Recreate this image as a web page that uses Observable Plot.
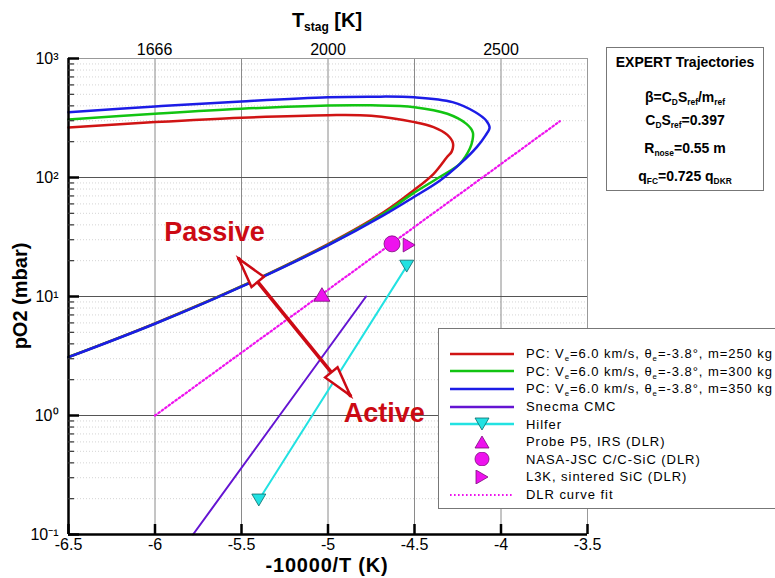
<!DOCTYPE html>
<html><head><meta charset="utf-8">
<script src="https://cdn.jsdelivr.net/npm/d3@7"></script>
<script src="https://cdn.jsdelivr.net/npm/@observablehq/plot@0.6"></script>
<style>
body{margin:0;background:#fff;font-family:"Liberation Sans",Arial,Helvetica,sans-serif;}
#wrap{position:relative;width:775px;height:578px;overflow:hidden;background:#fff;}
#wrap svg.plot{position:absolute;left:0;top:0;}
.ab{position:absolute;white-space:nowrap;color:#000;}
.c{transform:translate(-50%,-50%);}
sub{font-size:0.6em;vertical-align:-0.35em;line-height:0;}
.title{font-weight:bold;}
#info{position:absolute;left:606px;top:47px;width:156px;height:142px;border:1px solid #777;background:#fff;}
#info div{position:absolute;left:0;width:156px;text-align:center;font-weight:bold;font-size:14px;line-height:16px;transform:translateY(-50%);}
#legend{position:absolute;left:438px;top:328px;width:345px;height:181px;border:1px solid #777;background:#fff;box-sizing:border-box;padding:16px 0 0 11px;}
.row{display:flex;align-items:center;height:17.6px;}
.row svg{flex:none;}
.row span{margin-left:12px;font-size:13px;letter-spacing:0.95px;white-space:nowrap;}
</style></head><body><div id="wrap"></div><script>
// ---------- data ----------
const xTicks = [-6.5, -6, -5.5, -5, -4.5, -4, -3.5];
const yTicks = [0.1, 1, 10, 100, 1000];
const yTickLabels = ["10\u207B\u00B9", "10\u2070", "10\u00B9", "10\u00B2", "10\u00B3"];
const tStagTicks = [1666, 2000, 2500];

// PC trajectories, m = 250 / 300 / 350 kg   (x = -10000/T, p = pO2 in mbar)
const pc250X = [-6.5, -6.0, -5.5, -5.0, -4.75, -4.5, -4.39, -4.31, -4.278, -4.285, -4.313, -4.391, -4.506, -4.679, -5.0, -5.5, -6.0, -6.5];
const pc250P = [263, 292, 318, 334, 330, 292, 265, 228, 195, 165, 148, 107, 77.8, 51, 27.6, 12.2, 5.95, 3.1];
const pc300X = [-6.5, -6.0, -5.5, -5.0, -4.75, -4.5, -4.31, -4.2, -4.163, -4.165, -4.18, -4.237, -4.354, -4.508, -4.68, -5.0, -5.5, -6.0, -6.5];
const pc300P = [307, 343, 378, 403, 404, 390, 343, 282, 240, 205, 175, 131, 101, 73.5, 49.5, 27.2, 12.15, 5.92, 3.1];
const pc350X = [-6.5, -6.0, -5.5, -5.0, -4.75, -4.5, -4.28, -4.15, -4.085, -4.066, -4.09, -4.14, -4.237, -4.352, -4.506, -4.68, -5.0, -5.5, -6.0, -6.5];
const pc350P = [354, 395, 436, 473, 478, 472, 430, 355, 300, 262, 225, 180, 130, 94.4, 68.2, 48, 26.9, 12.1, 5.9, 3.09];

// Snecma CMC
const snecmaX = [-5.78, -4.78];
const snecmaP = [0.1, 10];
// Hilfer
const hilferX = [-5.40, -4.545];
const hilferP = [0.195, 18];
// DLR points
const probeX = [-5.035], probeP = [10.4];
const nasaX = [-4.63], nasaP = [27.7];
const l3kX = [-4.531], l3kP = [27.1];
// DLR curve fit
const fitX = [-6.0, -3.66];
const fitP = [1.0, 297];
// Passive / Active arrow and labels
const arrowX = [-5.516, -4.871];
const arrowP = [20.8, 1.47];
const regionLabels = ["Passive", "Active"];
const regionX = [-5.656, -4.675];
const regionP = [34.5, 1.04];

const legendLabels = [
  "PC: V<sub>e</sub>=6.0 km/s, \u03B8<sub>e</sub>=-3.8\u00B0, m=250 kg",
  "PC: V<sub>e</sub>=6.0 km/s, \u03B8<sub>e</sub>=-3.8\u00B0, m=300 kg",
  "PC: V<sub>e</sub>=6.0 km/s, \u03B8<sub>e</sub>=-3.8\u00B0, m=350 kg",
  "Snecma CMC",
  "Hilfer",
  "Probe P5, IRS (DLR)",
  "NASA-JSC C/C-SiC (DLR)",
  "L3K, sintered SiC (DLR)",
  "DLR curve fit"
];

// ---------- styles ----------
const C = {red:"#d01414", green:"#12c412", blue:"#1c1ce6", purple:"#6414d2", cyan:"#22e2e2", magenta:"#ee12ee", arrow:"#cc0a14"};

const pts = (xs, ps) => xs.map((x, i) => ({x, p: ps[i]}));

function tri(dir){ // custom triangle symbols: "down" | "up" | "right"
  return {draw(ctx, size){
    const r = Math.sqrt(size / Math.PI);
    const h = r * 0.85, w = r;
    if (dir === "down"){ ctx.moveTo(-w,-h); ctx.lineTo(w,-h); ctx.lineTo(0,h); }
    else if (dir === "up"){ ctx.moveTo(-w,h); ctx.lineTo(w,h); ctx.lineTo(0,-h); }
    else { ctx.moveTo(-h,-w); ctx.lineTo(-h,w); ctx.lineTo(h,0); }
    ctx.closePath();
  }};
}
function head(deg){
  const a = deg*Math.PI/180, c = Math.cos(a), s = Math.sin(a);
  const q = [[0,0],[-8,30],[8,30]].map(([x,y]) => [x*c - y*s, x*s + y*c]);
  return {draw(ctx){ ctx.moveTo(q[0][0],q[0][1]); ctx.lineTo(q[1][0],q[1][1]); ctx.lineTo(q[2][0],q[2][1]); ctx.closePath(); }};
}

const minorY = [];
for (const k of [-1, 0, 1, 2]) for (let m = 2; m <= 9; m++) minorY.push(m * 10 ** k);
const topPos = tStagTicks.map(t => -10000 / t);

const W = 775, H = 578, ML = 68, MR = 188, MT = 58, MB = 44;
const PW = W - ML - MR, PH = H - MT - MB;

const plot = Plot.plot({
  width: W, height: H,
  marginLeft: ML, marginRight: MR, marginTop: MT, marginBottom: MB,
  style: {fontFamily: "'Liberation Sans', Arial, sans-serif", fontSize: "16px", color: "#000", background: "transparent"},
  x: {domain: [-6.5, -3.5]},
  y: {type: "log", domain: [0.1, 1000]},
  marks: [
    Plot.ruleY(minorY, {stroke: "#d4d4d4", strokeDasharray: "1,2"}),
    Plot.ruleX(xTicks.slice(1, -1), {stroke: "#8a8a8a"}),
    Plot.ruleY(yTicks.slice(1, -1), {stroke: "#555"}),
    Plot.ruleY([1000], {stroke: "#999"}),
    Plot.ruleX([-3.5], {stroke: "#999"}),
    Plot.line(pts(fitX, fitP), {x: "x", y: "p", stroke: C.magenta, strokeWidth: 2.2, strokeDasharray: "1.6,2.6"}),
    Plot.line(pts(snecmaX, snecmaP), {x: "x", y: "p", stroke: C.purple, strokeWidth: 2}),
    Plot.line(pts(hilferX, hilferP), {x: "x", y: "p", stroke: C.cyan, strokeWidth: 2}),
    Plot.line(pts(pc250X, pc250P), {x: "x", y: "p", stroke: C.red, strokeWidth: 2.5, curve: "catmull-rom"}),
    Plot.line(pts(pc300X, pc300P), {x: "x", y: "p", stroke: C.green, strokeWidth: 2.5, curve: "catmull-rom"}),
    Plot.line(pts(pc350X, pc350P), {x: "x", y: "p", stroke: C.blue, strokeWidth: 2.5, curve: "catmull-rom"}),
    Plot.dot(pts(hilferX, hilferP), {x: "x", y: "p", r: 7, symbol: tri("down"), fill: C.cyan, stroke: "#0a6a6a", strokeWidth: 0.8}),
    Plot.dot(pts(probeX, probeP), {x: "x", y: "p", r: 8, symbol: tri("up"), fill: C.magenta, stroke: "#7a0a7a", strokeWidth: 0.8}),
    Plot.dot(pts(nasaX, nasaP), {x: "x", y: "p", r: 8, fill: C.magenta, stroke: "#7a0a7a", strokeWidth: 0.8}),
    Plot.dot(pts(l3kX, l3kP), {x: "x", y: "p", r: 7, symbol: tri("right"), fill: C.magenta, stroke: "#7a0a7a", strokeWidth: 0.8}),
    // passive/active arrow
    Plot.line(pts(arrowX, arrowP), {x: "x", y: "p", stroke: C.arrow, strokeWidth: 3.5}),
    Plot.dot(pts(arrowX.slice(0,1), arrowP.slice(0,1)), {x: "x", y: "p", r: 8, symbol: head(-39.2), fill: "#fff", stroke: C.arrow, strokeWidth: 2.5}),
    Plot.dot(pts(arrowX.slice(1), arrowP.slice(1)), {x: "x", y: "p", r: 8, symbol: head(140.8), fill: "#fff", stroke: C.arrow, strokeWidth: 2.5}),
    Plot.text(regionLabels.map((t, i) => ({t, x: regionX[i], p: regionP[i]})), {x: "x", y: "p", text: "t", fill: C.arrow, fontSize: 27, fontWeight: "bold"}),
    // axes frame
    Plot.ruleX([-6.5], {stroke: "#000", strokeWidth: 2.5}),
    Plot.ruleY([0.1], {stroke: "#000", strokeWidth: 2.5}),
    Plot.tickX(xTicks, {x: d => d, stroke: "#000", strokeWidth: 2.5, insetTop: PH - 10}),
    Plot.tickY(yTicks, {y: d => d, stroke: "#000", strokeWidth: 2.5, insetRight: PW - 11}),
    Plot.tickY(minorY, {y: d => d, stroke: "#333", strokeWidth: 1.2, insetRight: PW - 6}),
    Plot.axisX({anchor: "bottom", ticks: xTicks, tickFormat: d => String(d), tickSize: 0, tickPadding: 4, label: null}),
    Plot.axisX({anchor: "top", ticks: topPos, tickFormat: d => String(tStagTicks[topPos.indexOf(d)]), tickSize: 0, tickPadding: 4, label: null}),
    Plot.axisY({ticks: yTicks, tickFormat: d => yTickLabels[yTicks.indexOf(d)], tickSize: 0, tickPadding: 10, label: null})
  ]
});
plot.classList.add("plot");
const wrap = document.getElementById("wrap");
wrap.appendChild(plot);

function addDiv(html, cls, css){
  const d = document.createElement("div");
  d.className = cls; d.innerHTML = html; Object.assign(d.style, css); wrap.appendChild(d); return d;
}
addDiv("T<sub>stag</sub> [K]", "ab c title", {left: "327px", top: "20px", fontSize: "20px"});
addDiv("-10000/T (K)", "ab c title", {left: "327px", top: "565px", fontSize: "20px", letterSpacing: "0.8px"});
addDiv("pO2 (mbar)", "ab title", {left: "20px", top: "296px", fontSize: "20px", transform: "translate(-50%,-50%) rotate(-90deg)"});

// info box
const info = document.createElement("div"); info.id = "info";
const infoLines = ["EXPERT Trajectories", "\u03B2=C<sub>D</sub>S<sub>ref</sub>/m<sub>ref</sub>", "C<sub>D</sub>S<sub>ref</sub>=0.397", "R<sub>nose</sub>=0.55 m", "q<sub>FC</sub>=0.725 q<sub>DKR</sub>"];
const infoTops = [14, 49, 72, 100, 128];
infoLines.forEach((t, i) => { const d = document.createElement("div"); d.innerHTML = t; d.style.top = infoTops[i] + "px"; info.appendChild(d); });
wrap.appendChild(info);

// legend
const sw = [
  `<line x1="0" x2="64" y1="7" y2="7" stroke="${C.red}" stroke-width="2.5"/>`,
  `<line x1="0" x2="64" y1="7" y2="7" stroke="${C.green}" stroke-width="2.5"/>`,
  `<line x1="0" x2="64" y1="7" y2="7" stroke="${C.blue}" stroke-width="2.5"/>`,
  `<line x1="0" x2="64" y1="7" y2="7" stroke="${C.purple}" stroke-width="2.5"/>`,
  `<line x1="0" x2="64" y1="7" y2="7" stroke="${C.cyan}" stroke-width="2.5"/><polygon points="25,1 39,1 32,13" fill="${C.cyan}" stroke="#0a6a6a" stroke-width="0.8"/>`,
  `<polygon points="25,13 39,13 32,1" fill="${C.magenta}" stroke="#7a0a7a" stroke-width="0.8"/>`,
  `<circle cx="32" cy="7" r="7" fill="${C.magenta}" stroke="#7a0a7a" stroke-width="0.8"/>`,
  `<polygon points="26,0 26,14 38,7" fill="${C.magenta}" stroke="#7a0a7a" stroke-width="0.8"/>`,
  `<line x1="0" x2="64" y1="7" y2="7" stroke="${C.magenta}" stroke-width="2" stroke-dasharray="1.6,2.4"/>`
];
const leg = document.createElement("div"); leg.id = "legend";
legendLabels.forEach((t, i) => {
  const r = document.createElement("div"); r.className = "row";
  r.innerHTML = `<svg width="64" height="14">${sw[i]}</svg><span>${t}</span>`;
  leg.appendChild(r);
});
wrap.appendChild(leg);
</script></body></html>
